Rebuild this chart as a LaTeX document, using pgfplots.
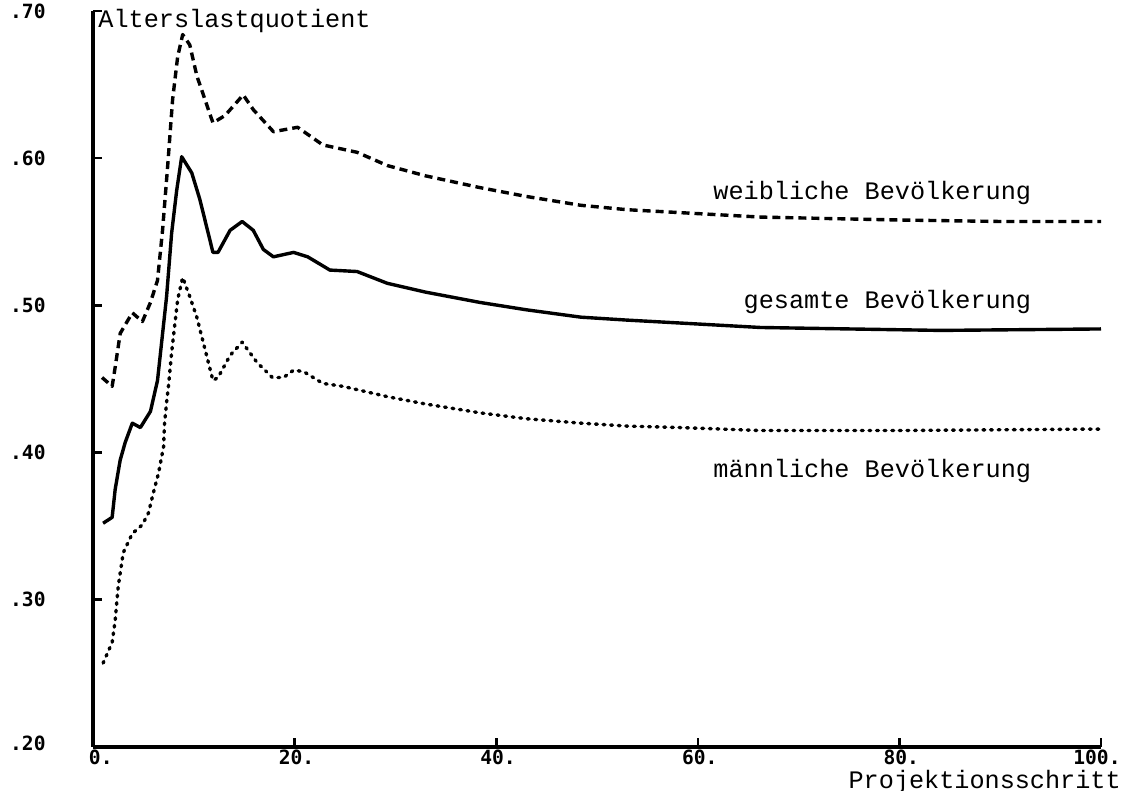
\documentclass[border=0pt]{standalone}
\usepackage{fontspec}
\setmainfont{Liberation Mono}
\newfontfamily\tickfont{DejaVu Sans Mono}
\usepackage{pgfplots}
\pgfplotsset{compat=1.18}
\newcommand{\lbl}{\fontsize{12.6}{14}\selectfont}

\begin{document}
\begin{tikzpicture}
\useasboundingbox (-46.5pt,-22pt) rectangle (519.5pt,373.5pt);
\begin{axis}[
    at={(0,0)}, anchor=south west,
    scale only axis, width=504pt, height=368pt,
    xmin=0, xmax=100, ymin=0.2, ymax=0.7,
    axis lines=left, axis line style={-, line width=1.7pt},
    tick align=inside, major tick length=4.5pt,
    tick style={line width=1.3pt, black},
    xtick={0,20,40,60,80,100},
    xticklabels={0.,20.,40.,60.,80.,100.},
    ytick={0.2,0.3,0.4,0.5,0.6,0.7},
    yticklabels={\raisebox{3.5pt}{.20},.30,.40,.50,.60,\raisebox{-5pt}{.70}},
    x tick label style={anchor=north east, inner sep=0pt, xshift=10pt, yshift=-1.2pt},
    y tick label style={anchor=east, inner sep=0pt, xshift=-23.5pt},
    ticklabel style={font=\tickfont\bfseries\fontsize{9.8}{10}\selectfont},
    clip=false,
    every axis plot/.append style={line width=1.7pt, line join=round},
  ]
  % weibliche Bevoelkerung
  \addplot[black, dash pattern=on 4pt off 2.5pt] coordinates {
    (0.9,0.451)(1.9,0.445)(2.2,0.458)(2.7,0.481)(3.9,0.495)(4.9,0.489)(5.7,0.502)
    (6.4,0.517)(6.9,0.551)(7.4,0.594)(7.9,0.640)(8.4,0.669)(8.9,0.684)(9.6,0.677)
    (10.3,0.656)(11.9,0.624)(13.1,0.629)(14.9,0.643)(15.9,0.633)(17.9,0.618)
    (20.3,0.621)(22.8,0.609)(26.2,0.604)(29.2,0.595)(33,0.588)(38.4,0.580)
    (43,0.574)(48.4,0.568)(53,0.565)(58.3,0.563)(66.2,0.560)(73,0.559)
    (80.1,0.558)(90,0.557)(100,0.557)};
  % gesamte Bevoelkerung
  \addplot[black, solid] coordinates {
    (1.0,0.352)(1.9,0.356)(2.2,0.375)(2.7,0.395)(3.2,0.407)(3.9,0.420)(4.7,0.417)
    (5.7,0.428)(6.4,0.449)(6.7,0.468)(7.3,0.506)(7.8,0.549)(8.3,0.578)(8.8,0.601)
    (9.8,0.590)(10.6,0.572)(11.9,0.536)(12.4,0.536)(13.6,0.551)(14.8,0.557)
    (15.9,0.551)(16.9,0.538)(17.9,0.533)(19.9,0.536)(21.3,0.533)(23.5,0.524)
    (26.2,0.523)(29.2,0.515)(33,0.509)(38.4,0.502)(43,0.497)(48.4,0.492)
    (53,0.490)(58.3,0.488)(66.2,0.485)(75,0.484)(84.1,0.483)(100,0.484)};
  % maennliche Bevoelkerung
  \addplot[black, line cap=round, dash pattern=on 0.9pt off 2.9pt] coordinates {
    (1.0,0.257)(1.9,0.271)(2.2,0.286)(2.5,0.309)(3.0,0.332)(3.9,0.345)(4.9,0.351)
    (5.5,0.359)(6.0,0.373)(6.5,0.386)(7.0,0.404)(7.1,0.420)(7.3,0.434)(7.5,0.446)
    (7.8,0.468)(8.4,0.504)(8.9,0.519)(9.6,0.506)(10.3,0.492)(11.9,0.449)
    (12.4,0.451)(13.6,0.466)(14.8,0.475)(16.3,0.461)(17.8,0.451)(18.9,0.451)
    (19.9,0.456)(20.9,0.455)(22.8,0.447)(24.8,0.445)(29.2,0.438)(33,0.433)
    (38.4,0.427)(43,0.423)(48.4,0.420)(53,0.418)(58.3,0.417)(66.2,0.415)
    (80.1,0.415)(100,0.416)};

  \node[anchor=base west, inner sep=0] at (axis cs:0.5,0.689) {\lbl Alterslastquotient};
  \node[anchor=base east, inner sep=0] at (axis cs:93.1,0.572) {\lbl weibliche Bevölkerung};
  \node[anchor=base east, inner sep=0] at (axis cs:93.1,0.498) {\lbl gesamte Bevölkerung};
  \node[anchor=base east, inner sep=0] at (axis cs:93.1,0.383) {\lbl männliche Bevölkerung};
  \node[anchor=base east, inner sep=0] at (axis cs:102.0,0.1718) {\lbl Projektionsschritt};
\end{axis}
\end{tikzpicture}
\end{document}
